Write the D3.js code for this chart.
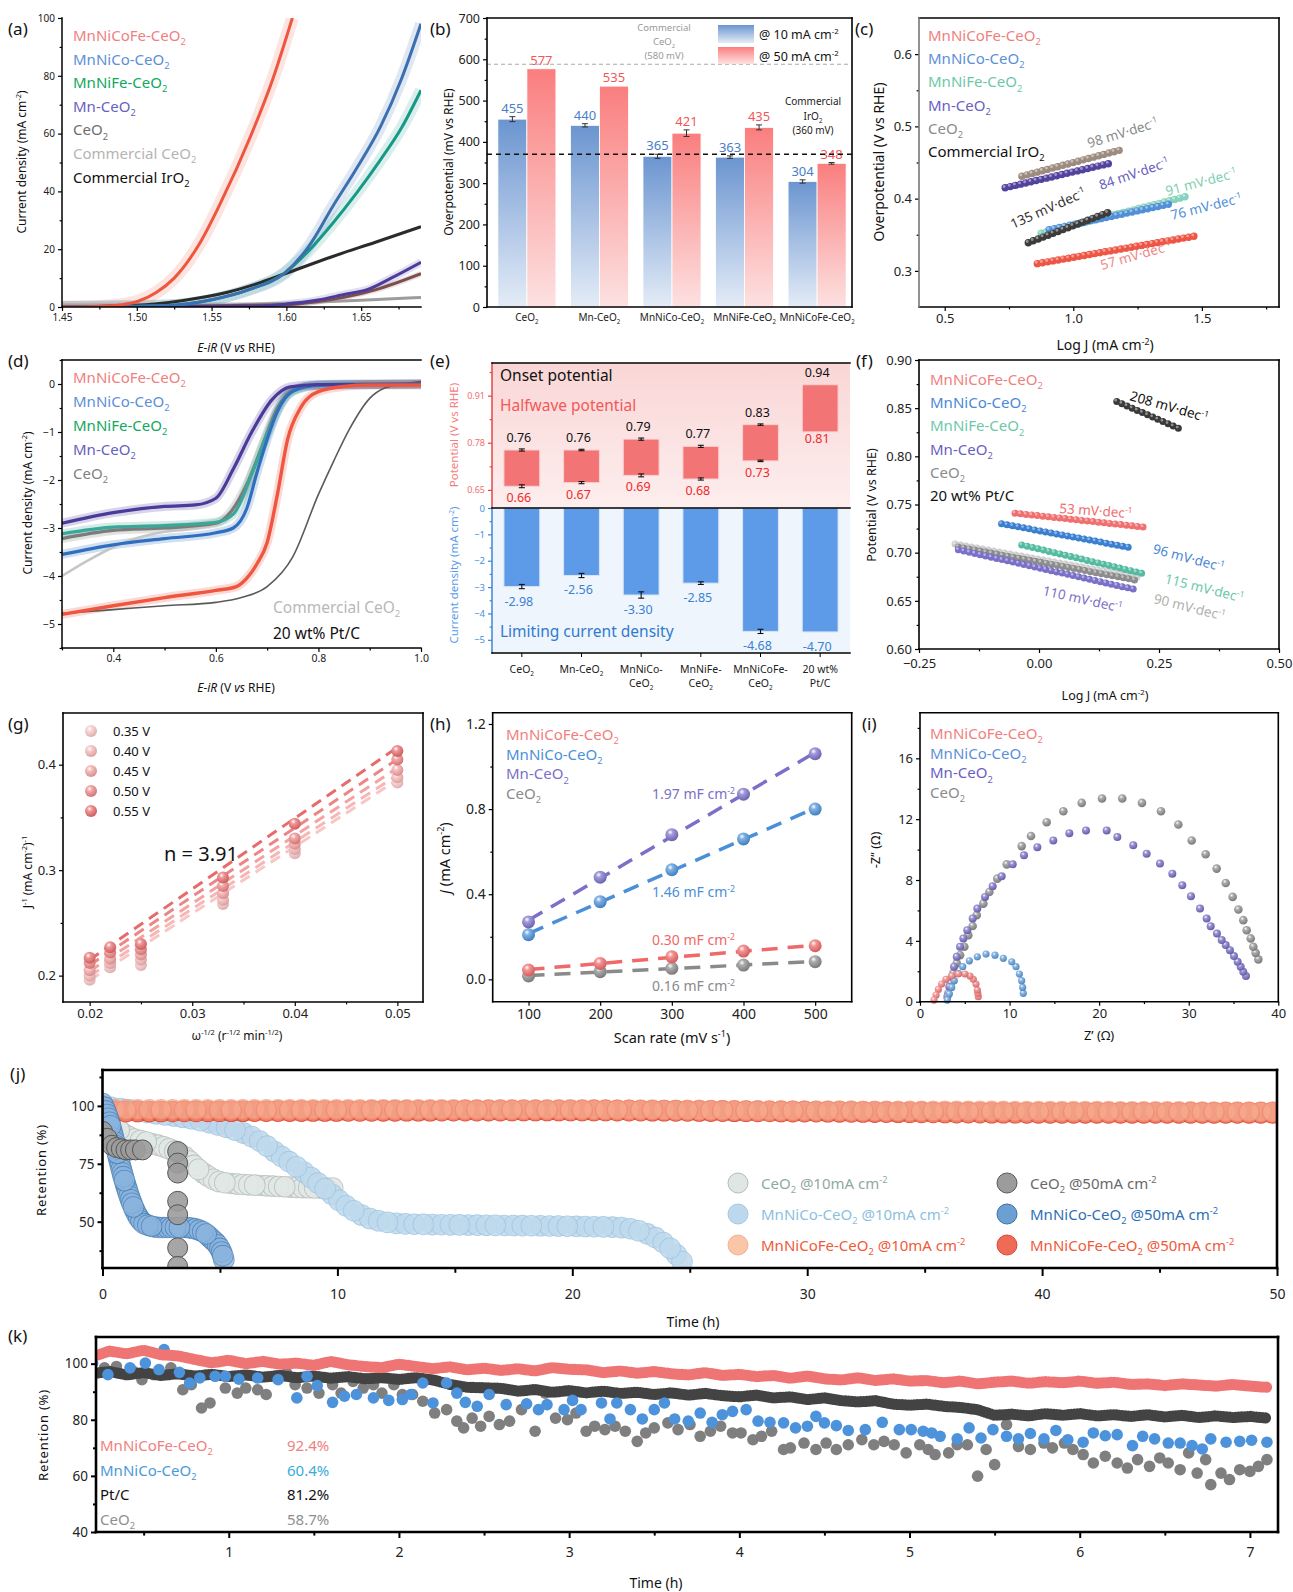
<!DOCTYPE html>
<html>
<head>
<meta charset="utf-8">
<title>CeO2 electrocatalyst panels</title>
<script src="https://cdnjs.cloudflare.com/ajax/libs/d3/7.8.5/d3.min.js"></script>
<style>
  body { margin: 0; background: #fff; }
  svg { display: block; }
</style>
</head>
<body>
<script>
var FONT = "'Noto Sans', 'Open Sans', sans-serif";

// ---------------- data ----------------
// (a) OER polarisation curves  [E-iR (V), j (mA cm-2)]
var aMnNiCoFe = [[1.45,0],[1.47,0.1],[1.49,0.8],[1.50,1.8],[1.513,5],[1.525,10],[1.542,22],[1.556,36],[1.576,59],[1.591,79],[1.604,100]];
var aMnNiCo = [[1.45,0],[1.52,0.5],[1.55,2.5],[1.575,6],[1.599,11.8],[1.615,21],[1.631,34.8],[1.647,48],[1.663,62.5],[1.677,79],[1.69,98]];
var aMnNiFe = [[1.45,0],[1.52,0.5],[1.55,2.5],[1.575,6],[1.599,11.8],[1.615,19.5],[1.631,29],[1.647,39.5],[1.663,51],[1.677,62],[1.69,75]];
var aMn = [[1.45,0],[1.58,0.3],[1.60,1],[1.62,2.3],[1.64,4.5],[1.654,6],[1.67,10],[1.69,15.5]];
var aCeO2 = [[1.45,0],[1.60,0.8],[1.62,1.8],[1.64,3.5],[1.66,6],[1.69,11.5]];
var aComCeO2 = [[1.45,0.2],[1.55,0.6],[1.60,1.3],[1.65,2.3],[1.69,3.3]];
var aIrO2 = [[1.45,0],[1.50,0.6],[1.53,2.2],[1.56,5],[1.58,8],[1.599,11.5],[1.63,17.3],[1.66,22.5],[1.69,27.8]];
var aLegend = ["MnNiCoFe-CeO_{2}","MnNiCo-CeO_{2}","MnNiFe-CeO_{2}","Mn-CeO_{2}","CeO_{2}","Commercial CeO_{2}","Commercial IrO_{2}"];

// (b) overpotentials (mV)
var bCats = ["CeO_{2}","Mn-CeO_{2}","MnNiCo-CeO_{2}","MnNiFe-CeO_{2}","MnNiCoFe-CeO_{2}"];
var b10 = [455,440,365,363,304];
var b50 = [577,535,421,435,348];
var b10Err = [6,4,5,3,4];
var b50Err = [0,0,8,6,2];
var bRefCeO2 = 588;
var bRefIrO2 = 370;

// (c) OER Tafel fits [logJ start, end], [eta start, end]
var cNames = ["CeO2","Mn-CeO2","Commercial IrO2","MnNiFe-CeO2","MnNiCo-CeO2","MnNiCoFe-CeO2"];
var cLogJ = [[0.80,1.18],[0.735,1.156],[0.825,1.152],[0.875,1.44],[0.906,1.38],[0.86,1.487]];
var cEta = [[0.431,0.467],[0.415,0.450],[0.339,0.383],[0.352,0.403],[0.357,0.393],[0.310,0.349]];
var cSlopes = ["98","84","135","91","76","57"];
var cLegend = ["MnNiCoFe-CeO_{2}","MnNiCo-CeO_{2}","MnNiFe-CeO_{2}","Mn-CeO_{2}","CeO_{2}","Commercial IrO_{2}"];

// (d) ORR polarisation curves [E (V), j (mA cm-2)]
var dMnNiCoFe = [[0.30,-4.8],[0.40,-4.62],[0.50,-4.45],[0.60,-4.3],[0.64,-4.22],[0.66,-4.05],[0.68,-3.75],[0.70,-3.3],[0.72,-2.3],[0.74,-1.15],[0.765,-0.5],[0.80,-0.16],[0.85,-0.05],[0.9,-0.02],[1.0,-0.02]];
var dPtC = [[0.3,-4.78],[0.4,-4.7],[0.5,-4.62],[0.6,-4.55],[0.65,-4.45],[0.7,-4.22],[0.75,-3.6],[0.8,-2.3],[0.83,-1.6],[0.86,-0.95],[0.9,-0.3],[0.93,-0.08],[0.96,-0.01],[1.0,0.05]];
var dMn = [[0.3,-2.9],[0.4,-2.68],[0.5,-2.55],[0.56,-2.52],[0.6,-2.38],[0.635,-1.75],[0.67,-1.0],[0.71,-0.32],[0.745,-0.06],[0.8,-0.01],[1.0,0]];
var dMnNiFe = [[0.3,-3.12],[0.4,-2.98],[0.5,-2.95],[0.6,-2.88],[0.635,-2.7],[0.673,-1.8],[0.70,-1.05],[0.74,-0.23],[0.78,-0.04],[0.85,0],[1.0,0]];
var dMnNiCo = [[0.3,-3.55],[0.4,-3.35],[0.5,-3.22],[0.6,-3.1],[0.634,-3.0],[0.66,-2.6],[0.68,-1.85],[0.70,-1.15],[0.72,-0.57],[0.75,-0.15],[0.8,-0.03],[1.0,0]];
var dCeO2 = [[0.3,-3.22],[0.4,-3.05],[0.5,-3.0],[0.6,-2.9],[0.63,-2.65],[0.66,-2.1],[0.69,-1.3],[0.72,-0.5],[0.75,-0.12],[0.8,-0.02],[1.0,0]];
var dComCeO2 = [[0.3,-4.0],[0.35,-3.68],[0.4,-3.4],[0.45,-3.2],[0.5,-3.08],[0.55,-3.02],[0.6,-2.92],[0.63,-2.7],[0.66,-2.2],[0.69,-1.4],[0.72,-0.6],[0.75,-0.15],[0.8,-0.03],[1.0,0]];
var dLegend = ["MnNiCoFe-CeO_{2}","MnNiCo-CeO_{2}","MnNiFe-CeO_{2}","Mn-CeO_{2}","CeO_{2}"];

// (e) onset / halfwave potentials and limiting current
var eCats = ["CeO_{2}","Mn-CeO_{2}","MnNiCo-|CeO_{2}","MnNiFe-|CeO_{2}","MnNiCoFe-|CeO_{2}","20 wt%|Pt/C"];
var eOnset = [0.76,0.76,0.79,0.77,0.83,0.94];
var eHalf = [0.66,0.67,0.69,0.68,0.73,0.81];
var eLim = [-2.98,-2.56,-3.30,-2.85,-4.68,-4.70];
var eOnsetErr = [0.003,0.002,0.003,0.003,0.002,0];
var eHalfErr = [0.004,0.003,0.004,0.003,0.002,0];
var eLimErr = [0.08,0.08,0.12,0.05,0.08,0];

// (f) ORR Tafel fits
var fNames = ["Commercial CeO2","CeO2","Mn-CeO2","MnNiFe-CeO2","MnNiCo-CeO2","MnNiCoFe-CeO2","20 wt% Pt/C"];
var fLogJ = [[-0.175,0.21],[-0.168,0.207],[-0.168,0.198],[-0.036,0.219],[-0.078,0.193],[-0.05,0.228],[0.162,0.30]];
var fE = [[0.709,0.674],[0.706,0.671],[0.703,0.662],[0.708,0.678],[0.730,0.705],[0.741,0.726],[0.857,0.827]];
var fLegend = ["MnNiCoFe-CeO_{2}","MnNiCo-CeO_{2}","MnNiFe-CeO_{2}","Mn-CeO_{2}","CeO_{2}","20 wt% Pt/C"];

// (g) Koutecky-Levich
var gOmega = [0.02,0.022,0.025,0.033,0.04,0.05];
var gPotentials = ["0.35 V","0.40 V","0.45 V","0.50 V","0.55 V"];
var gJ035 = [0.196,0.208,0.210,0.268,0.316,0.383];
var gJ040 = [0.200,0.212,0.215,0.272,0.320,0.388];
var gJ045 = [0.205,0.216,0.220,0.278,0.325,0.395];
var gJ050 = [0.212,0.222,0.225,0.285,0.330,0.405];
var gJ055 = [0.217,0.227,0.230,0.293,0.344,0.413];

// (h) double-layer capacitance
var hScan = [100,200,300,400,500];
var hMn = [0.27,0.48,0.68,0.87,1.06];
var hMnNiCo = [0.21,0.365,0.515,0.66,0.80];
var hMnNiCoFe = [0.044,0.075,0.106,0.133,0.158];
var hCeO2 = [0.016,0.036,0.052,0.067,0.083];
var hLabels = ["1.97","1.46","0.30","0.16"];

// (i) Nyquist [Z', -Z'']
var iCeO2 = [[37.77,2.78],[37.47,3.21],[37.21,3.61],[36.92,4.16],[36.47,4.70],[36.09,5.36],[35.54,6.06],[34.90,6.89],[34.13,7.80],[33.12,8.75],[31.89,9.69],[30.33,10.60],[28.84,11.65],[26.90,12.52],[24.78,13.07],[22.58,13.36],[20.32,13.36],[18.05,13.07],[16.0,12.52],[14.14,11.80],[12.39,10.89],[11.35,10.23],[9.68,9.03],[8.63,8.09],[7.74,7.21],[7.07,6.45],[6.33,5.69],[5.88,4.98],[5.39,4.37],[4.95,3.61],[4.47,3.06],[4.10,2.52],[3.72,1.86],[3.43,1.21],[3.16,0.55]];
var iMn = [[36.39,1.69],[36.09,1.97],[35.80,2.30],[35.46,2.62],[35.05,3.0],[34.60,3.39],[34.13,3.72],[33.68,4.05],[33.15,4.48],[32.45,4.96],[32.0,5.47],[31.26,6.12],[30.25,6.93],[29.28,7.65],[28.17,8.42],[26.79,9.08],[25.30,9.73],[23.81,10.28],[22.03,10.82],[20.84,11.26],[18.53,11.26],[16.67,11.08],[14.88,10.60],[13.10,10.16],[11.61,9.62],[10.35,9.03],[9.12,8.24],[8.11,7.59],[7.26,6.89],[6.40,6.12],[5.88,5.47],[5.28,4.70],[4.84,4.16],[4.47,3.61],[4.10,2.95],[3.80,2.30],[3.54,1.64],[3.27,0.98],[3.05,0.33]];
var iMnNiCo = [[11.53,0.55],[11.46,0.94],[11.35,1.38],[11.09,1.82],[10.72,2.30],[10.24,2.62],[9.30,2.85],[8.37,3.06],[7.37,3.13],[6.40,2.95],[5.51,2.69],[4.77,2.30],[4.28,1.86],[3.83,1.38],[3.54,0.94],[3.27,0.50],[3.05,0.11]];
var iMnNiCoFe = [[6.51,0.33],[6.45,0.55],[6.40,0.77],[6.25,1.16],[5.95,1.47],[5.58,1.69],[5.02,1.82],[4.28,1.82],[3.54,1.69],[2.90,1.47],[2.42,1.16],[2.05,0.81],[1.79,0.44],[1.56,0.11]];
var iLegend = ["MnNiCoFe-CeO_{2}","MnNiCo-CeO_{2}","Mn-CeO_{2}","CeO_{2}"];

// (j) OER stability [time (h), retention (%)]
var jCeO2_10 = [[0,97],[0.9,88],[2,84],[2.7,82],[3.5,78],[4.1,72.5],[5.1,67],[7,65.5],[9.7,64.5],[10,64.5]];
var jCeO2_50 = [[0,89],[0.2,86],[0.4,83],[0.6,82],[0.8,81.5],[1.0,81],[1.2,81],[1.4,81],[1.7,81],[3.2,80.3],[3.2,75.3],[3.2,71],[3.2,58.8],[3.2,53],[3.2,38.7],[3.2,30.7]];
var jCo10 = [[0,100],[2,97],[4,94],[5.5,90],[6.5,86],[7.5,79],[8.5,72],[9.5,64],[10.5,56],[11.5,51],[13,49],[16,48.5],[20,48],[22,47.5],[23,45.5],[24,40],[24.5,35],[24.8,31]];
var jCo50 = [[0,101],[0.3,93],[0.55,83],[0.9,69],[1.25,58],[1.8,49],[2.5,47.5],[3.5,47.5],[4.2,46],[4.6,43],[5.1,36],[5.2,32]];
var jFe10 = [[0,98.5],[10,98.5],[20,98.5],[30,98],[40,97.8],[50,97.5]];
var jFe50 = [[0,97.5],[10,97.8],[20,98],[30,97.5],[40,97],[50,97]];
var jLegend = ["CeO_{2} @10mA cm^{-2}","CeO_{2} @50mA cm^{-2}","MnNiCo-CeO_{2} @10mA cm^{-2}","MnNiCo-CeO_{2} @50mA cm^{-2}","MnNiCoFe-CeO_{2} @10mA cm^{-2}","MnNiCoFe-CeO_{2} @50mA cm^{-2}"];

// (k) ORR stability
var kTime = [0.2,0.3,0.4,0.5,0.6,0.7,0.8,0.9,1.0,1.1,1.2,1.3,1.4,1.5,1.6,1.7,1.8,1.9,2.0,2.1,2.2,2.3,2.4,2.5,2.6,2.7,2.8,2.9,3.0,3.1,3.2,3.3,3.4,3.5,3.6,3.7,3.8,3.9,4.0,4.1,4.2,4.3,4.4,4.5,4.6,4.7,4.8,4.9,5.0,5.1,5.2,5.3,5.4,5.5,5.6,5.7,5.8,5.9,6.0,6.1,6.2,6.3,6.4,6.5,6.6,6.7,6.8,6.9,7.0,7.1];
var kMnNiCoFe = [102.5,104.5,103.5,104.8,103.2,102.8,101.5,100.3,101.2,100.0,100.8,99.8,100.2,99.4,100.8,99.6,99.0,98.6,99.8,99.0,98.2,98.9,97.8,98.4,97.6,98.2,97.4,98.6,98.0,97.8,96.8,97.4,96.6,97.2,96.4,96.0,96.8,95.8,96.2,95.4,95.8,94.8,95.6,94.6,94.2,95.0,94.0,94.6,93.8,94.0,93.2,93.8,92.8,93.4,93.8,93.0,93.6,93.2,93.8,93.0,93.4,92.6,92.8,92.2,92.8,92.4,92.0,92.6,92.0,91.6];
var kPtC = [96.5,97.2,96.0,96.8,95.8,96.4,95.6,96.2,95.4,96.0,95.2,95.8,95.0,95.6,94.8,95.4,94.6,95.0,94.4,95.0,94.2,92.6,91.6,91.4,91.2,90.2,90.8,89.8,90.4,89.6,90.2,89.4,89.8,89.0,89.6,88.8,89.4,88.6,88.2,88.8,87.8,88.2,87.2,87.8,86.8,86.4,86.8,85.6,85.2,85.6,84.8,84.4,83.6,81.6,82.0,81.4,82.2,81.6,82.2,81.4,81.8,81.2,81.8,81.0,81.6,80.8,81.4,80.8,81.2,80.6];
var kMnNiCo = [[0.20,100.2],[0.29,96.1],[0.42,98.5],[0.51,100.2],[0.59,97.9],[0.62,105.0],[0.71,96.9],[0.77,93.1],[0.83,94.9],[0.92,95.5],[0.98,95.5],[1.06,94.5],[1.17,94.9],[1.29,94.3],[1.40,87.8],[1.46,95.5],[1.52,92.2],[1.61,86.2],[1.68,88.4],[1.75,89.0],[1.85,87.8],[1.94,86.9],[2.02,87.2],[2.07,89.0],[2.14,93.1],[2.20,86.0],[2.28,93.1],[2.34,89.5],[2.39,86.2],[2.46,84.8],[2.53,89.0],[2.63,85.4],[2.75,85.7],[2.82,83.6],[2.87,85.4],[2.97,83.6],[3.02,86.9],[3.07,83.6],[3.19,86.0],[3.24,80.3],[3.28,86.0],[3.36,83.6],[3.43,80.3],[3.50,83.6],[3.56,86.0],[3.62,80.3],[3.70,79.5],[3.77,82.4],[3.84,79.1],[3.90,81.8],[3.96,83.0],[4.04,83.6],[4.11,79.5],[4.18,79.1],[4.26,78.9],[4.33,77.1],[4.40,77.7],[4.45,81.2],[4.50,78.9],[4.57,77.9],[4.64,76.2],[4.74,76.5],[4.84,79.1],[4.94,76.5],[5.01,76.5],[5.08,75.9],[5.13,75.3],[5.18,74.1],[5.28,73.2],[5.35,77.1],[5.42,73.5],[5.49,76.5],[5.57,74.1],[5.64,73.2],[5.71,75.1],[5.79,73.2],[5.86,76.2],[5.93,72.9],[6.02,72.0],[6.08,75.3],[6.15,74.3],[6.22,74.7],[6.31,70.8],[6.37,74.1],[6.44,73.2],[6.52,71.7],[6.59,71.7],[6.66,70.8],[6.72,69.6],[6.77,73.2],[6.86,72.0],[6.94,72.3],[7.01,72.7],[7.10,72.0]];
var kCeO2 = [[0.20,96.1],[0.27,98.5],[0.34,99.0],[0.44,97.3],[0.49,94.3],[0.56,96.1],[0.66,98.5],[0.73,90.7],[0.78,92.5],[0.84,84.2],[0.89,86.0],[0.98,91.3],[1.05,89.5],[1.10,91.3],[1.17,90.7],[1.22,89.0],[1.27,95.5],[1.34,96.7],[1.39,92.5],[1.46,91.3],[1.53,89.5],[1.61,92.5],[1.66,89.5],[1.73,93.7],[1.79,91.3],[1.85,92.5],[1.90,89.5],[1.97,92.5],[2.02,89.0],[2.08,89.0],[2.14,86.6],[2.21,82.4],[2.28,83.6],[2.34,79.5],[2.38,77.1],[2.43,80.6],[2.48,77.7],[2.53,81.2],[2.59,78.3],[2.65,79.5],[2.72,83.6],[2.80,75.9],[2.86,89.5],[2.92,80.6],[2.99,80.0],[3.04,82.4],[3.10,75.9],[3.15,77.7],[3.21,76.5],[3.27,77.7],[3.33,75.9],[3.40,72.3],[3.45,75.3],[3.50,77.1],[3.58,78.9],[3.64,76.5],[3.71,78.3],[3.77,74.1],[3.83,75.9],[3.89,77.7],[3.96,75.3],[4.01,75.3],[4.08,72.9],[4.13,74.1],[4.19,75.9],[4.26,69.4],[4.30,70.0],[4.38,71.7],[4.45,69.4],[4.51,71.7],[4.57,69.4],[4.64,71.1],[4.72,72.9],[4.79,71.1],[4.85,72.3],[4.91,71.1],[4.98,68.2],[5.06,71.1],[5.11,69.4],[5.15,67.6],[5.23,68.2],[5.28,71.1],[5.34,71.1],[5.40,59.9],[5.45,69.4],[5.50,64.0],[5.57,78.3],[5.64,70.5],[5.71,69.4],[5.79,71.7],[5.84,70.0],[5.91,71.7],[5.96,69.4],[6.02,67.6],[6.08,64.6],[6.15,67.0],[6.22,64.6],[6.28,62.8],[6.34,65.8],[6.41,63.4],[6.47,66.4],[6.52,64.6],[6.59,62.2],[6.64,68.2],[6.69,61.0],[6.74,65.8],[6.77,56.9],[6.83,61.0],[6.88,58.7],[6.94,62.2],[7.00,61.6],[7.05,63.4],[7.10,65.8]];
var kLegend = ["MnNiCoFe-CeO_{2}","MnNiCo-CeO_{2}","Pt/C","CeO_{2}"];
var kRetention = ["92.4%","60.4%","81.2%","58.7%"];

// ---------------- helpers ----------------
var svg = d3.select("body").append("svg")
    .attr("width", 1293).attr("height", 1592)
    .attr("font-family", FONT);
svg.append("rect").attr("width", 1293).attr("height", 1592).attr("fill", "#fff");
var defs = svg.append("defs");

// "_{x}" subscript, "^{x}" superscript, "*{x}" italic
function rich(t, s, fs) {
    var parts = s.split(/(_\{[^}]*\}|\^\{[^}]*\}|\*\{[^}]*\})/).filter(function(p) { return p.length; });
    var shift = 0;
    parts.forEach(function(p) {
        var sp = t.append("tspan");
        if (p[0] === "_" && p[1] === "{") {
            sp.attr("dy", fs * 0.28 - shift).attr("font-size", fs * 0.62).text(p.slice(2, -1));
            shift = fs * 0.28;
        } else if (p[0] === "^" && p[1] === "{") {
            sp.attr("dy", -fs * 0.38 - shift).attr("font-size", fs * 0.62).text(p.slice(2, -1));
            shift = -fs * 0.38;
        } else if (p[0] === "*" && p[1] === "{") {
            sp.attr("dy", -shift).attr("font-style", "italic").text(p.slice(2, -1));
            shift = 0;
        } else {
            sp.attr("dy", -shift).text(p);
            shift = 0;
        }
    });
}

function txt(g, x, y, s, o) {
    o = o || {};
    var fs = o.fs || 12;
    var t = g.append("text").attr("x", x).attr("y", y)
        .attr("font-size", fs).attr("fill", o.c || "#111")
        .attr("text-anchor", o.a || "start");
    if (o.rot) t.attr("transform", "rotate(" + o.rot + "," + x + "," + y + ")");
    if (o.ls) t.attr("letter-spacing", o.ls);
    rich(t, s, fs);
    return t;
}

function axis(g, orient, scale, pos, ticks, fmt, fs, o) {
    o = o || {};
    var make = {bottom: d3.axisBottom, left: d3.axisLeft, top: d3.axisTop, right: d3.axisRight}[orient];
    var horiz = orient === "bottom" || orient === "top";
    var tr = horiz ? "translate(0," + pos + ")" : "translate(" + pos + ",0)";
    var size = o.size || 4;
    var a = g.append("g").attr("transform", tr)
        .call(make(scale).tickValues(ticks).tickFormat(fmt).tickSizeOuter(0).tickSizeInner(size).tickPadding(o.pad || 3));
    a.attr("font-family", null).attr("font-size", null);
    a.select(".domain").remove();
    a.selectAll(".tick line").attr("stroke", o.color || "#000").attr("stroke-width", o.sw || 1.2);
    a.selectAll(".tick text").attr("font-size", fs).attr("fill", o.tcolor || "#222");
    if (o.minor) {
        var m = g.append("g").attr("transform", tr)
            .call(make(scale).tickValues(o.minor).tickFormat("").tickSizeOuter(0).tickSizeInner(size * 0.6));
        m.select(".domain").remove();
        m.selectAll(".tick line").attr("stroke", o.color || "#000").attr("stroke-width", o.sw || 1.2);
    }
    return a;
}

function frame(g, x0, y0, x1, y1, sides, sw, color) {
    sides.split("").forEach(function(s) {
        var l = {t: [x0, y0, x1, y0], b: [x0, y1, x1, y1], l: [x0, y0, x0, y1], r: [x1, y0, x1, y1]}[s];
        g.append("line").attr("x1", l[0]).attr("y1", l[1]).attr("x2", l[2]).attr("y2", l[3])
            .attr("stroke", color || "#000").attr("stroke-width", sw || 1.5).attr("stroke-linecap", "square");
    });
}

var sphereN = 0;
function sphere(color) {
    var id = "sph" + (sphereN++);
    var gr = defs.append("radialGradient").attr("id", id).attr("cx", "38%").attr("cy", "32%").attr("r", "68%");
    gr.append("stop").attr("offset", "0%").attr("stop-color", "#fff");
    gr.append("stop").attr("offset", "30%").attr("stop-color", d3.interpolateRgb(color, "#fff")(0.3));
    gr.append("stop").attr("offset", "100%").attr("stop-color", d3.color(color).darker(0.35));
    return "url(#" + id + ")";
}

// a chain of small round markers drawn as a dotted stroke
function dotChain(g, pts, x, y, o) {
    var line = d3.line().x(function(d) { return x(d[0]); }).y(function(d) { return y(d[1]); })
        .curve(o.curve || d3.curveLinear);
    var dash = "0 " + o.gap;
    var d = line(pts);
    g.append("path").attr("d", d).attr("fill", "none").attr("stroke", o.fill)
        .attr("stroke-width", o.r * 2).attr("stroke-linecap", "round")
        .attr("stroke-dasharray", dash).attr("opacity", o.op || 1);
    if (o.hi) {
        g.append("path").attr("d", d).attr("fill", "none").attr("stroke", "#fff")
            .attr("stroke-width", o.r * 0.8).attr("stroke-linecap", "round")
            .attr("stroke-dasharray", dash).attr("opacity", 0.45)
            .attr("transform", "translate(" + (-o.r * 0.3) + "," + (-o.r * 0.35) + ")");
    }
}

// big outlined markers that overlap like a stack of coins: the dotted stroke is
// split into interleaved layers so each marker keeps its own rim
function coinChain(g, pts, x, y, o) {
    var line = d3.line().x(function(d) { return x(d[0]); }).y(function(d) { return y(d[1]); })
        .curve(o.curve || d3.curveLinear);
    var d = line(pts);
    var n = Math.ceil((2 * o.r + 2) / o.gap) + 1;
    var G = n * o.gap;
    for (var i = 0; i < n; i++) {
        var off = (G - i * o.gap) % G;
        var lay = g.append("g").attr("opacity", o.op || 1);
        lay.append("path").attr("d", d).attr("fill", "none").attr("stroke", o.stroke)
            .attr("stroke-width", o.r * 2 + 1.6).attr("stroke-linecap", "round")
            .attr("stroke-dasharray", "0 " + G).attr("stroke-dashoffset", off);
        lay.append("path").attr("d", d).attr("fill", "none").attr("stroke", o.fill)
            .attr("stroke-width", o.r * 2).attr("stroke-linecap", "round")
            .attr("stroke-dasharray", "0 " + G).attr("stroke-dashoffset", off);
    }
}

function reg(xs, ys) {
    var mx = d3.mean(xs), my = d3.mean(ys);
    var sxy = d3.sum(xs, function(v, i) { return (v - mx) * (ys[i] - my); });
    var sxx = d3.sum(xs, function(v) { return (v - mx) * (v - mx); });
    var b = sxy / sxx;
    return [b, my - b * mx];
}

function clip(id, x0, y0, x1, y1) {
    defs.append("clipPath").attr("id", id).append("rect")
        .attr("x", x0).attr("y", y0).attr("width", x1 - x0).attr("height", y1 - y0);
    return "url(#" + id + ")";
}

// panel letters
[["(a)",8,35],["(b)",430,35],["(c)",855,35],["(d)",8,367],["(e)",430,367],["(f)",856,367],
 ["(g)",8,730],["(h)",430,730],["(i)",862,730],["(j)",10,1080],["(k)",8,1342]].forEach(function(p) {
    txt(svg, p[1], p[2], p[0], {fs: 17});
});

// ---------------- (a) ----------------
(function() {
    var g = svg.append("g");
    var x = d3.scaleLinear().domain([1.45, 1.69]).range([62, 421]);
    var y = d3.scaleLinear().domain([0, 100]).range([307, 18]);
    var line = d3.line().x(function(d) { return x(d[0]); }).y(function(d) { return y(d[1]); }).curve(d3.curveMonotoneX);
    var c = g.append("g").attr("clip-path", clip("clipA", 62, 18, 421, 307));
    var series = [
        [aComCeO2, "#9c9c9c", 0], [aCeO2, "#7d4c4c", 6], [aMn, "#4b3c9e", 8], [aIrO2, "#2b2b2b", 0],
        [aMnNiFe, "#17998a", 12], [aMnNiCo, "#3b6fb0", 12], [aMnNiCoFe, "#ef553f", 13]
    ];
    series.forEach(function(s) {
        if (s[2]) c.append("path").attr("d", line(s[0])).attr("fill", "none").attr("stroke", s[1])
            .attr("stroke-width", s[2]).attr("opacity", 0.16);
    });
    series.forEach(function(s) {
        c.append("path").attr("d", line(s[0])).attr("fill", "none").attr("stroke", s[1]).attr("stroke-width", 3);
    });
    axis(g, "bottom", x, 307, [1.45, 1.5, 1.55, 1.6, 1.65], d3.format(".2f"), 10, {minor: [1.475, 1.525, 1.575, 1.625, 1.675]});
    axis(g, "left", y, 62, [0, 20, 40, 60, 80, 100], d3.format("d"), 10, {minor: [10, 30, 50, 70, 90]});
    frame(g, 62, 18, 421, 307, "lb", 1.5);
    var cols = ["#f08080", "#5b8fd8", "#10a860", "#6a60c0", "#6e6e6e", "#b4b4b4", "#111"];
    aLegend.forEach(function(l, i) { txt(g, 73, 41 + i * 23.6, l, {fs: 15, c: cols[i]}); });
    txt(g, 26, 162, "Current density (mA cm^{-2})", {fs: 12, a: "middle", rot: -90});
    txt(g, 236, 352, "*{E-iR} (V *{vs} RHE)", {fs: 12, a: "middle"});
})();

// ---------------- (b) ----------------
(function() {
    var g = svg.append("g");
    var x = d3.scaleBand().domain(bCats).range([487, 857]).paddingInner(0.2).paddingOuter(0.15);
    var sub = d3.scaleBand().domain(["10", "50"]).range([0, x.bandwidth()]);
    var y = d3.scaleLinear().domain([0, 700]).range([307, 18]);
    var gb = defs.append("linearGradient").attr("id", "gradBlue").attr("x1", 0).attr("y1", 0).attr("x2", 0).attr("y2", 1);
    gb.append("stop").attr("offset", "0%").attr("stop-color", "#6b95d0");
    gb.append("stop").attr("offset", "100%").attr("stop-color", "#e4ecf7");
    var gr = defs.append("linearGradient").attr("id", "gradRed").attr("x1", 0).attr("y1", 0).attr("x2", 0).attr("y2", 1);
    gr.append("stop").attr("offset", "0%").attr("stop-color", "#fa7e7e");
    gr.append("stop").attr("offset", "100%").attr("stop-color", "#fde1e1");

    var sets = [[b10, b10Err, "10", "url(#gradBlue)", "#4a7ec8"], [b50, b50Err, "50", "url(#gradRed)", "#f25757"]];
    sets.forEach(function(s) {
        g.selectAll(null).data(bCats).enter().append("rect")
            .attr("x", function(c) { return x(c) + sub(s[2]); })
            .attr("width", sub.bandwidth())
            .attr("y", function(c, i) { return y(s[0][i]); })
            .attr("height", function(c, i) { return y(0) - y(s[0][i]); })
            .attr("fill", s[3]).attr("stroke", "#fff").attr("stroke-width", 0.8);
    });
    sets.forEach(function(s) {
        bCats.forEach(function(c, i) {
            var cx = x(c) + sub(s[2]) + sub.bandwidth() / 2, v = s[0][i], e = s[1][i];
            if (e > 0) {
                g.append("line").attr("x1", cx).attr("x2", cx).attr("y1", y(v - e)).attr("y2", y(v + e)).attr("stroke", "#333");
                [v - e, v + e].forEach(function(w) {
                    g.append("line").attr("x1", cx - 3).attr("x2", cx + 3).attr("y1", y(w)).attr("y2", y(w)).attr("stroke", "#333");
                });
            }
            txt(g, cx, y(v + e) - 4, String(v), {fs: 13, a: "middle", c: s[4]});
        });
    });
    g.append("line").attr("x1", 487).attr("x2", 852).attr("y1", y(bRefCeO2)).attr("y2", y(bRefCeO2))
        .attr("stroke", "#aaa").attr("stroke-width", 1.2).attr("stroke-dasharray", "4,3");
    g.append("line").attr("x1", 487).attr("x2", 852).attr("y1", y(bRefIrO2)).attr("y2", y(bRefIrO2))
        .attr("stroke", "#111").attr("stroke-width", 1.3).attr("stroke-dasharray", "5,4");
    txt(g, 664, 31, "Commercial", {fs: 9.5, a: "middle", c: "#999"});
    txt(g, 664, 45, "CeO_{2}", {fs: 9.5, a: "middle", c: "#999"});
    txt(g, 664, 59, "(580 mV)", {fs: 9.5, a: "middle", c: "#999"});
    txt(g, 813, 105, "Commercial", {fs: 10, a: "middle", c: "#222"});
    txt(g, 813, 120, "IrO_{2}", {fs: 10, a: "middle", c: "#222"});
    txt(g, 813, 134, "(360 mV)", {fs: 10, a: "middle", c: "#222"});
    g.append("rect").attr("x", 718).attr("y", 25).attr("width", 36).attr("height", 18).attr("fill", "url(#gradBlue)");
    g.append("rect").attr("x", 718).attr("y", 47).attr("width", 36).attr("height", 17).attr("fill", "url(#gradRed)");
    txt(g, 759, 39, "@ 10 mA cm^{-2}", {fs: 12.5});
    txt(g, 759, 61, "@ 50 mA cm^{-2}", {fs: 12.5});
    axis(g, "left", y, 487, d3.range(0, 701, 100), d3.format("d"), 12.5, {minor: d3.range(50, 700, 100)});
    bCats.forEach(function(c) { txt(g, x(c) + x.bandwidth() / 2, 321, c, {fs: 10, a: "middle", c: "#222"}); });
    frame(g, 487, 18, 852, 307, "tblr", 1.6);
    txt(g, 453, 162, "Overpotential (mV vs RHE)", {fs: 12, a: "middle", rot: -90});
})();

// ---------------- (c) ----------------
(function() {
    var g = svg.append("g");
    var x = d3.scaleLinear().domain([0.4, 1.8]).range([919, 1279]);
    var y = d3.scaleLinear().domain([0.25, 0.65]).range([307, 18]);
    var cols = ["#9c8b7e", "#54439e", "#3c3c3c", "#84d2bb", "#5090d8", "#ee5544"];
    [0, 1, 3, 4, 2, 5].forEach(function(i) {
        var lj = cLogJ[i];
        dotChain(g, [[lj[0], cEta[i][0]], [lj[1], cEta[i][1]]], x, y, {r: 3.7, gap: 5.3, fill: cols[i], hi: true});
    });
    var ann = [[1089, 148, -17, "#8a8a8a"], [1101, 190, -19, "#6a60c0"], [1013, 229, -24, "#333"],
               [1167, 196, -15, "#7fcfb0"], [1172, 220, -14, "#5090d8"], [1102, 270, -16, "#f08888"]];
    ann.forEach(function(a, i) {
        txt(g, a[0], a[1], cSlopes[i] + " mV·dec^{-1}", {fs: 13.5, c: a[3], rot: a[2]});
    });
    var lc = ["#f08080", "#5b8fd8", "#6dc8a8", "#6a60c0", "#8a8a8a", "#111"];
    cLegend.forEach(function(l, i) { txt(g, 928, 41 + i * 23.2, l, {fs: 15, c: lc[i]}); });
    axis(g, "bottom", x, 307, [0.5, 1.0, 1.5], d3.format(".1f"), 13, {minor: [0.75, 1.25, 1.75]});
    axis(g, "left", y, 919, [0.3, 0.4, 0.5, 0.6], d3.format(".1f"), 13, {minor: [0.35, 0.45, 0.55]});
    frame(g, 919, 18, 1279, 307, "tbr", 1.6);
    frame(g, 919, 18, 1279, 307, "l", 1.6, "#777");
    txt(g, 1105, 350, "Log J (mA cm^{-2})", {fs: 14, a: "middle"});
    txt(g, 884, 162, "Overpotential (V vs RHE)", {fs: 14, a: "middle", rot: -90});
})();

// ---------------- (d) ----------------
(function() {
    var g = svg.append("g");
    var x = d3.scaleLinear().domain([0.3, 1.0]).range([62, 421]);
    var y = d3.scaleLinear().domain([-5.5, 0.5]).range([648, 360]);
    var line = d3.line().x(function(d) { return x(d[0]); }).y(function(d) { return y(d[1]); }).curve(d3.curveMonotoneX);
    var series = [
        [dComCeO2, "#c6c6c6", 0, 2.6], [dPtC, "#5a5a5a", 0, 1.6], [dCeO2, "#7c7c7c", 9, 3.2],
        [dMnNiFe, "#3aa898", 9, 3.2], [dMnNiCo, "#2f6fbf", 9, 3.2], [dMn, "#4a3a9a", 9, 3.2], [dMnNiCoFe, "#ef553f", 9, 3.4]
    ];
    series.forEach(function(s) {
        if (s[2]) g.append("path").attr("d", line(s[0])).attr("fill", "none").attr("stroke", s[1])
            .attr("stroke-width", s[2]).attr("opacity", 0.22);
    });
    series.forEach(function(s) {
        g.append("path").attr("d", line(s[0])).attr("fill", "none").attr("stroke", s[1]).attr("stroke-width", s[3]);
    });
    axis(g, "bottom", x, 648, [0.4, 0.6, 0.8, 1.0], d3.format(".1f"), 10.5, {minor: [0.3, 0.5, 0.7, 0.9]});
    axis(g, "left", y, 62, [-5, -4, -3, -2, -1, 0], d3.format("d"), 10.5, {minor: [-5.5, -4.5, -3.5, -2.5, -1.5, -0.5, 0.5]});
    frame(g, 62, 360, 421, 648, "tlb", 1.5);
    var cols = ["#f08080", "#5b8fd8", "#10a860", "#6a60c0", "#808080"];
    dLegend.forEach(function(l, i) { txt(g, 73, 383 + i * 24, l, {fs: 15, c: cols[i]}); });
    txt(g, 273, 613, "Commercial CeO_{2}", {fs: 15.5, c: "#b8b8b8"});
    txt(g, 273, 639, "20 wt% Pt/C", {fs: 15.5, c: "#111"});
    txt(g, 32, 503, "Current density (mA cm^{-2})", {fs: 12, a: "middle", rot: -90});
    txt(g, 236, 692, "*{E-iR} (V *{vs} RHE)", {fs: 12, a: "middle"});
})();

// ---------------- (e) ----------------
(function() {
    var g = svg.append("g");
    var L = 492, R = 850, T = 363, M = 508, B = 653;
    var x = d3.scaleBand().domain(eCats).range([L, R]).paddingInner(0.4).paddingOuter(0.2);
    var yu = d3.scaleLinear().domain([0.6, 1.0]).range([M, T]);
    var yl = d3.scaleLinear().domain([-5.5, 0]).range([B, M]);
    var pg = defs.append("linearGradient").attr("id", "gradPink").attr("x1", 0).attr("y1", 0).attr("x2", 0).attr("y2", 1);
    pg.append("stop").attr("offset", "0%").attr("stop-color", "#fad6d6");
    pg.append("stop").attr("offset", "100%").attr("stop-color", "#fdeeee");
    g.append("rect").attr("x", L).attr("y", T).attr("width", R - L).attr("height", M - T).attr("fill", "url(#gradPink)");
    g.append("rect").attr("x", L).attr("y", M).attr("width", R - L).attr("height", B - M).attr("fill", "#eff5fc");

    g.selectAll(null).data(eCats).enter().append("rect")
        .attr("x", function(c) { return x(c); }).attr("width", x.bandwidth())
        .attr("y", function(c, i) { return yu(eOnset[i]); })
        .attr("height", function(c, i) { return yu(eHalf[i]) - yu(eOnset[i]); })
        .attr("fill", "#f27474").attr("stroke", "#fbd0d0").attr("stroke-width", 1);
    g.selectAll(null).data(eCats).enter().append("rect")
        .attr("x", function(c) { return x(c); }).attr("width", x.bandwidth())
        .attr("y", yl(0))
        .attr("height", function(c, i) { return yl(eLim[i]) - yl(0); })
        .attr("fill", "#5d9be8").attr("stroke", "#d5e5f8").attr("stroke-width", 1);

    function ebar(cx, ylo, yhi) {
        g.append("line").attr("x1", cx).attr("x2", cx).attr("y1", ylo).attr("y2", yhi).attr("stroke", "#111").attr("stroke-width", 1.1);
        [ylo, yhi].forEach(function(w) {
            g.append("line").attr("x1", cx - 3).attr("x2", cx + 3).attr("y1", w).attr("y2", w).attr("stroke", "#111").attr("stroke-width", 1.1);
        });
    }
    eCats.forEach(function(c, i) {
        var cx = x(c) + x.bandwidth() / 2;
        if (eOnsetErr[i]) ebar(cx, yu(eOnset[i] - eOnsetErr[i]), yu(eOnset[i] + eOnsetErr[i]));
        if (eHalfErr[i]) ebar(cx, yu(eHalf[i] - eHalfErr[i]), yu(eHalf[i] + eHalfErr[i]));
        if (eLimErr[i]) ebar(cx, yl(eLim[i] - eLimErr[i]), yl(eLim[i] + eLimErr[i]));
        txt(g, cx - 3, yu(eOnset[i]) - 8, eOnset[i].toFixed(2), {fs: 12.5, a: "middle", c: "#111"});
        txt(g, cx - 3, yu(eHalf[i]) + (i === 5 ? 11 : 16), eHalf[i].toFixed(2), {fs: 12.5, a: "middle", c: "#f02a2a"});
        txt(g, cx - 3, yl(eLim[i]) + 19, eLim[i].toFixed(2), {fs: 12.5, a: "middle", c: "#3a82d2"});
        var lines = c.split("|");
        lines.forEach(function(l, k) { txt(g, cx, 673 + k * 14, l, {fs: 10.5, a: "middle", c: "#222"}); });
        g.append("line").attr("x1", cx).attr("x2", cx).attr("y1", B).attr("y2", B + 4).attr("stroke", "#000");
    });
    txt(g, 500, 381, "Onset potential", {fs: 15.5, c: "#111"});
    txt(g, 500, 411, "Halfwave potential", {fs: 15.5, c: "#f25858"});
    txt(g, 500, 637, "Limiting current density", {fs: 15.5, c: "#2f7bd0"});

    axis(g, "left", yu, L, [0.65, 0.78, 0.91], d3.format(".2f"), 9, {color: "#e84545", tcolor: "#f07070", minor: [0.715, 0.845, 0.975]});
    axis(g, "left", yl, L, [0, -1, -2, -3, -4, -5], d3.format("d"), 9.5, {color: "#3d85d8", tcolor: "#4a90e0", minor: [-0.5, -1.5, -2.5, -3.5, -4.5]});
    frame(g, L, T, L, M, "l", 1.5, "#e84545");
    frame(g, L, M, L, B, "l", 1.5, "#3d85d8");
    frame(g, L, T, R, T, "t", 1.5);
    frame(g, L, M, R, M, "t", 1.5);
    frame(g, L, B, R, B, "t", 1.5);
    txt(g, 458, 435, "Potential (V vs RHE)", {fs: 11.5, a: "middle", rot: -90, c: "#f28080"});
    txt(g, 458, 575, "Current density (mA cm^{-2})", {fs: 11.5, a: "middle", rot: -90, c: "#5b9be8"});
})();

// ---------------- (f) ----------------
(function() {
    var g = svg.append("g");
    var x = d3.scaleLinear().domain([-0.25, 0.5]).range([919, 1279]);
    var y = d3.scaleLinear().domain([0.6, 0.9]).range([649, 360]);
    var cols = ["#cdcdcd", "#8c8c8c", "#7a70c8", "#55bba0", "#3a7fd0", "#f07070", "#3a3a3a"];
    fLogJ.forEach(function(lj, i) {
        dotChain(g, [[lj[0], fE[i][0]], [lj[1], fE[i][1]]], x, y, {r: 3.5, gap: 5.6, fill: cols[i], hi: true});
    });
    var ann = [["208", 1129, 400, 16, "#111"], ["53", 1059, 513, 4, "#f07070"], ["96", 1152, 553, 15, "#4a88d8"],
               ["115", 1164, 583, 14, "#6dc8a8"], ["90", 1153, 603, 14, "#b0b0b0"], ["110", 1042, 595, 12.5, "#7a70c8"]];
    ann.forEach(function(a) { txt(g, a[1], a[2], a[0] + " mV·dec^{-1}", {fs: 13.5, c: a[4], rot: a[3]}); });
    var lc = ["#f08080", "#4a88d8", "#6dc8a8", "#6a60c0", "#8a8a8a", "#111"];
    fLegend.forEach(function(l, i) { txt(g, 930, 385 + i * 23.2, l, {fs: 15, c: lc[i]}); });
    axis(g, "bottom", x, 649, [-0.25, 0, 0.25, 0.5], d3.format(".2f"), 13, {pad: 6, minor: [-0.125, 0.125, 0.375]});
    axis(g, "left", y, 919, d3.range(0.6, 0.901, 0.05), d3.format(".2f"), 13, {minor: d3.range(0.625, 0.9, 0.05)});
    frame(g, 919, 360, 1279, 649, "tblr", 1.6);
    txt(g, 1105, 700, "Log J (mA cm^{-2})", {fs: 12.5, a: "middle"});
    txt(g, 876, 505, "Potential (V vs RHE)", {fs: 12.5, a: "middle", rot: -90});
})();

// ---------------- (g) ----------------
(function() {
    var g = svg.append("g");
    var x = d3.scaleLinear().domain([0.0174, 0.0525]).range([63, 423]);
    var y = d3.scaleLinear().domain([0.175, 0.449]).range([1002, 713]);
    var sets = [gJ035, gJ040, gJ045, gJ050, gJ055];
    var cols = ["#f9c6c6", "#f7b6b6", "#f4a2a2", "#ee8585", "#e86a6a"];
    sets.forEach(function(vals, k) {
        var f = reg(gOmega, vals);
        g.append("line").attr("x1", x(0.02)).attr("x2", x(0.05))
            .attr("y1", y(f[1] + f[0] * 0.02 + 0.006)).attr("y2", y(f[1] + f[0] * 0.05 + 0.006))
            .attr("stroke", cols[k]).attr("stroke-width", 3).attr("stroke-dasharray", "11,7");
    });
    sets.forEach(function(vals, k) {
        var fill = sphere(cols[k]);
        g.selectAll(null).data(vals).enter().append("circle")
            .attr("cx", function(d, i) { return x(gOmega[i]); }).attr("cy", function(d) { return y(d); })
            .attr("r", 6).attr("fill", fill);
    });
    gPotentials.forEach(function(p, k) {
        g.append("circle").attr("cx", 91).attr("cy", 731 + k * 20).attr("r", 6).attr("fill", sphere(cols[k]));
        txt(g, 113, 736 + k * 20, p, {fs: 13});
    });
    txt(g, 164, 861, "n = 3.91", {fs: 20});
    axis(g, "bottom", x, 1002, [0.02, 0.03, 0.04, 0.05], d3.format(".2f"), 13, {minor: [0.025, 0.035, 0.045]});
    axis(g, "left", y, 63, [0.2, 0.3, 0.4], d3.format(".1f"), 13, {minor: [0.25, 0.35]});
    frame(g, 63, 713, 423, 1002, "tblr", 1.6);
    txt(g, 237, 1040, "ω^{-1/2}  (r^{-1/2} min^{-1/2})", {fs: 12, a: "middle"});
    txt(g, 32, 872, "J^{-1} (mA cm^{-2})^{-1}", {fs: 12, a: "middle", rot: -90});
})();

// ---------------- (h) ----------------
(function() {
    var g = svg.append("g");
    var x = d3.scaleLinear().domain([50, 551]).range([492.7, 851.7]);
    var y = d3.scaleLinear().domain([-0.105, 1.253]).range([1001.7, 712.7]);
    var sets = [hCeO2, hMnNiCoFe, hMnNiCo, hMn];
    var cols = ["#8a8a8a", "#f06868", "#4a90d8", "#7a70c8"];
    sets.forEach(function(vals, k) {
        var f = reg(hScan, vals);
        g.append("line").attr("x1", x(100)).attr("x2", x(500))
            .attr("y1", y(f[1] + f[0] * 100)).attr("y2", y(f[1] + f[0] * 500))
            .attr("stroke", cols[k]).attr("stroke-width", 3.5).attr("stroke-dasharray", "16,10");
    });
    sets.forEach(function(vals, k) {
        var fill = sphere(cols[k]);
        g.selectAll(null).data(vals).enter().append("circle")
            .attr("cx", function(d, i) { return x(hScan[i]); }).attr("cy", function(d) { return y(d); })
            .attr("r", 6.5).attr("fill", fill);
    });
    txt(g, 652, 799, hLabels[0] + " mF cm^{-2}", {fs: 14, c: "#7a70c8"});
    txt(g, 652, 897, hLabels[1] + " mF cm^{-2}", {fs: 14, c: "#4a90d8"});
    txt(g, 652, 945, hLabels[2] + " mF cm^{-2}", {fs: 14, c: "#f06868"});
    txt(g, 652, 991, hLabels[3] + " mF cm^{-2}", {fs: 14, c: "#8a8a8a"});
    var leg = ["MnNiCoFe-CeO_{2}", "MnNiCo-CeO_{2}", "Mn-CeO_{2}", "CeO_{2}"];
    var lc = ["#f08080", "#4a90d8", "#7a70c8", "#8a8a8a"];
    leg.forEach(function(l, i) { txt(g, 506, 740 + i * 19.7, l, {fs: 15, c: lc[i]}); });
    axis(g, "bottom", x, 1001.7, [100, 200, 300, 400, 500], d3.format("d"), 14);
    axis(g, "left", y, 492.7, [0, 0.4, 0.8, 1.2], d3.format(".1f"), 14, {minor: [0.2, 0.6, 1.0]});
    frame(g, 492.7, 712.7, 851.7, 1001.7, "tblr", 1.6);
    txt(g, 672, 1043, "Scan rate (mV s^{-1})", {fs: 14.5, a: "middle"});
    txt(g, 450, 858, "*{j} (mA cm^{-2})", {fs: 14.5, a: "middle", rot: -90});
})();

// ---------------- (i) ----------------
(function() {
    var g = svg.append("g");
    var x = d3.scaleLinear().domain([0, 40]).range([920, 1278.3]);
    var y = d3.scaleLinear().domain([0, 19]).range([1001.7, 712.7]);
    var sets = [[iCeO2, "#8a8a8a", 4.3], [iMn, "#7068c0", 4.0], [iMnNiCo, "#5a9ad8", 3.6], [iMnNiCoFe, "#f07878", 3.6]];
    sets.forEach(function(s) {
        var fill = sphere(s[1]);
        g.selectAll(null).data(s[0]).enter().append("circle")
            .attr("cx", function(d) { return x(d[0]); }).attr("cy", function(d) { return y(d[1]); })
            .attr("r", s[2]).attr("fill", fill);
    });
    var lc = ["#f08080", "#5b8fd8", "#6a60c0", "#8a8a8a"];
    iLegend.forEach(function(l, i) { txt(g, 930, 739 + i * 19.7, l, {fs: 15, c: lc[i]}); });
    axis(g, "bottom", x, 1001.7, [0, 10, 20, 30, 40], d3.format("d"), 13, {minor: [5, 15, 25, 35]});
    axis(g, "left", y, 920, [0, 4, 8, 12, 16], d3.format("d"), 13, {minor: [2, 6, 10, 14, 18]});
    frame(g, 920, 712.7, 1278.3, 1001.7, "tblr", 1.6);
    txt(g, 1099, 1040, "Z’ (Ω)", {fs: 13, a: "middle"});
    txt(g, 880, 850, "-Z’’ (Ω)", {fs: 13, a: "middle", rot: -90});
})();

// ---------------- (j) ----------------
(function() {
    var g = svg.append("g");
    var x = d3.scaleLinear().domain([0, 50]).range([102.5, 1277]);
    var y = d3.scaleLinear().domain([30, 115.5]).range([1268, 1070]);
    var c = g.append("g").attr("clip-path", clip("clipJ", 102.5, 1070, 1277, 1268));
    var mono = d3.curveMonotoneX;
    coinChain(c, jCeO2_10, x, y, {r: 10, gap: 6, fill: "#e2e8e5", stroke: "#b8c0bc", curve: mono, op: 0.9});
    coinChain(c, jCo10, x, y, {r: 10, gap: 9, fill: "#bfdaed", stroke: "#9fc4e0", curve: mono, op: 0.85});
    coinChain(c, jFe50, x, y, {r: 10, gap: 11.7, fill: "#ef7a62", stroke: "#dc4a34", curve: mono, op: 0.95});
    coinChain(c, jFe10, x, y, {r: 9.5, gap: 11.7, fill: "#f6ab90", stroke: "#f28e70", curve: mono, op: 0.7});
    coinChain(c, jCo50, x, y, {r: 10, gap: 4, fill: "#8ab5de", stroke: "#4a7db2", curve: mono, op: 0.75});
    c.selectAll(null).data(jCeO2_50).enter().append("circle")
        .attr("cx", function(d) { return x(d[0]); }).attr("cy", function(d) { return y(d[1]); })
        .attr("r", 10).attr("fill", "#9c9c9c").attr("fill-opacity", 0.9).attr("stroke", "#555").attr("stroke-width", 1);

    var legFill = ["#dfe6e3", "#9c9c9c", "#bcd8ec", "#6c9fd2", "#f9c6a8", "#ee6c56"];
    var legStroke = ["#b5bdb9", "#5a5a5a", "#a5c8e2", "#3d70a8", "#f6b090", "#d84a36"];
    var legText = ["#8fa9a3", "#6a6a6a", "#8cbfe0", "#2e6fb5", "#ef5a3a", "#ef5a3a"];
    jLegend.forEach(function(l, i) {
        var col = i % 2, row = Math.floor(i / 2);
        var cx = col ? 1007 : 738, cy = 1183 + row * 31;
        g.append("circle").attr("cx", cx).attr("cy", cy).attr("r", 10).attr("fill", legFill[i]).attr("stroke", legStroke[i]);
        txt(g, cx + 23, cy + 6, l, {fs: 15, c: legText[i]});
    });
    axis(g, "bottom", x, 1268, [0, 10, 20, 30, 40, 50], d3.format("d"), 14, {size: 8, pad: 13, sw: 2, minor: [5, 15, 25, 35, 45]});
    axis(g, "left", y, 102.5, [50, 75, 100], d3.format("d"), 13.5, {size: 5, sw: 2, minor: [37.5, 62.5, 87.5, 112.5]});
    frame(g, 102.5, 1070, 1277, 1268, "tblr", 2.6);
    txt(g, 693, 1327, "Time (h)", {fs: 14, a: "middle"});
    txt(g, 46, 1170, "Retention (%)", {fs: 13, a: "middle", rot: -90, ls: 0.8});
})();

// ---------------- (k) ----------------
(function() {
    var g = svg.append("g");
    var x = d3.scaleLinear().domain([0.22, 7.165]).range([96, 1278]);
    var y = d3.scaleLinear().domain([40, 109.5]).range([1532, 1337]);
    var c = g.append("g").attr("clip-path", clip("clipK", 96, 1337, 1278, 1532));
    c.selectAll(null).data(kCeO2).enter().append("circle")
        .attr("cx", function(d) { return x(d[0]); }).attr("cy", function(d) { return y(d[1]); })
        .attr("r", 5.8).attr("fill", "#7f7f7f");
    var pt = kTime.map(function(t, i) { return [t, kPtC[i]]; });
    dotChain(c, pt, x, y, {r: 5.6, gap: 3, fill: "#434343"});
    c.selectAll(null).data(kMnNiCo).enter().append("circle")
        .attr("cx", function(d) { return x(d[0]); }).attr("cy", function(d) { return y(d[1]); })
        .attr("r", 5.8).attr("fill", "#4d93dc");
    var fe = kTime.map(function(t, i) { return [t, kMnNiCoFe[i]]; });
    dotChain(c, fe, x, y, {r: 5.6, gap: 3, fill: "#ef7575"});

    var lc = ["#f08080", "#4a9ad8", "#111", "#909090"];
    var vc = ["#f08080", "#3aacd8", "#111", "#909090"];
    kLegend.forEach(function(l, i) {
        txt(g, 100, 1451 + i * 24.5, l, {fs: 15, c: lc[i]});
        txt(g, 287, 1451 + i * 24.5, kRetention[i], {fs: 15, c: vc[i]});
    });
    axis(g, "bottom", x, 1532, [1, 2, 3, 4, 5, 6, 7], d3.format("d"), 14, {size: 6, pad: 9, sw: 2, minor: [0.5, 1.5, 2.5, 3.5, 4.5, 5.5, 6.5]});
    axis(g, "left", y, 96, [40, 60, 80, 100], d3.format("d"), 13.5, {size: 5, sw: 2, minor: [50, 70, 90]});
    frame(g, 96, 1337, 1278, 1532, "tblr", 2.6);
    txt(g, 656, 1588, "Time (h)", {fs: 14, a: "middle"});
    txt(g, 48, 1435, "Retention (%)", {fs: 13, a: "middle", rot: -90, ls: 0.8});
})();
</script>
</body>
</html>
